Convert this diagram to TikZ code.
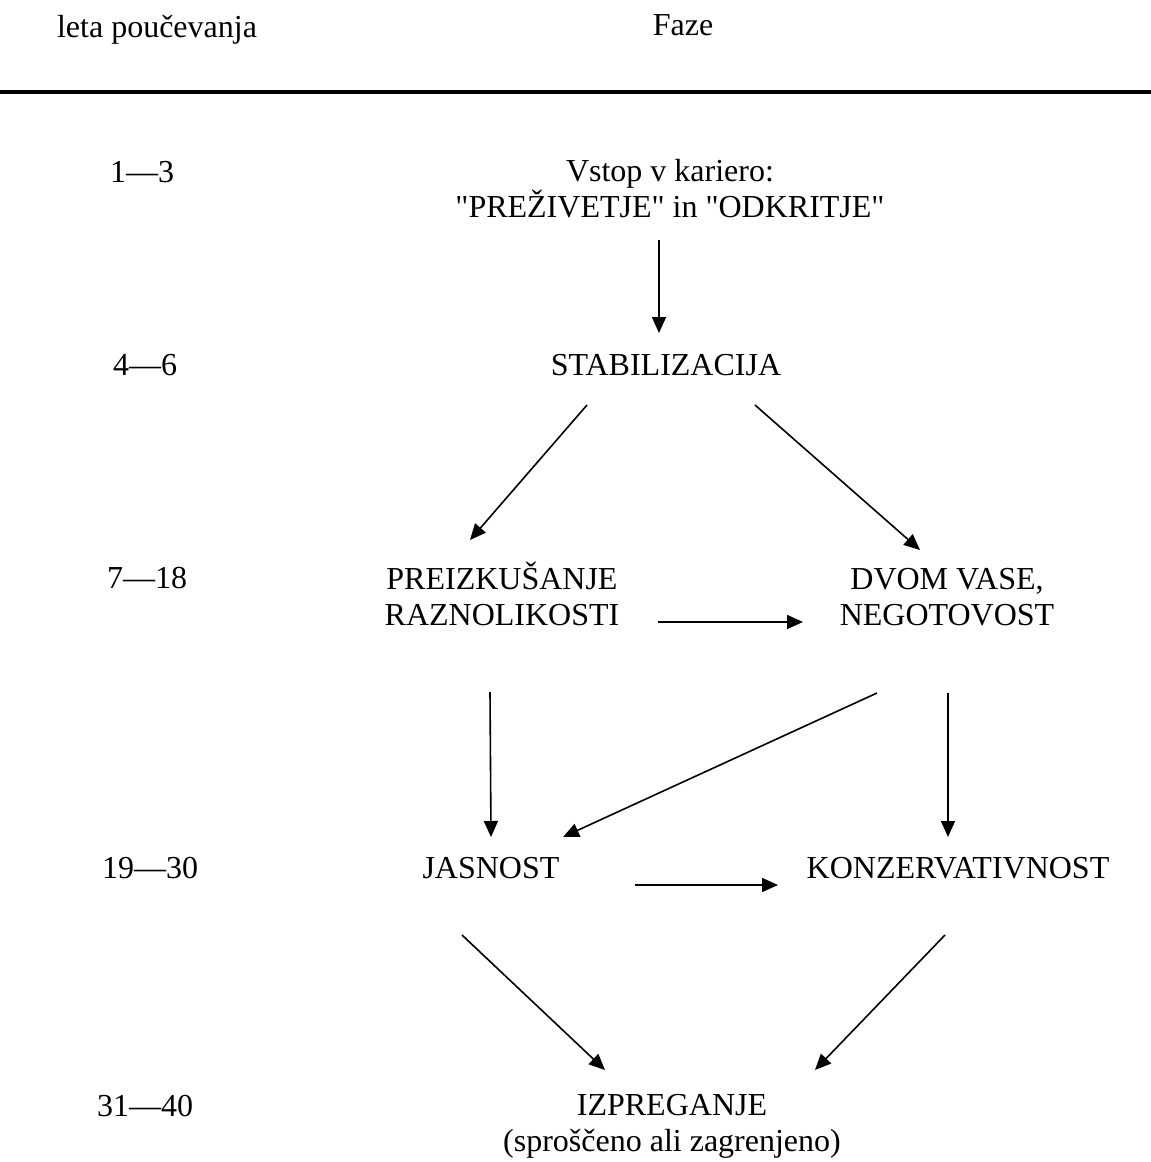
\documentclass[tikz,border=0pt]{standalone}
\usepackage{fontspec}
\setmainfont{Liberation Serif}[Ligatures=TeXOff]
\usepackage{tikz}
\usetikzlibrary{arrows.meta}
\usetikzlibrary{positioning}
\tikzstyle{faza}=[anchor=base,inner sep=0pt,align=center,font=\fontsize{32}{36}\selectfont]
\tikzstyle{leto}=[anchor=base,inner sep=0pt,font=\fontsize{32}{36}\selectfont]
\tikzstyle{suite}=[-{Triangle[length=16pt,width=14pt]},line width=1.6pt]

\begin{document}
\begin{tikzpicture}[x=1pt,y=-1pt]
\useasboundingbox (0,0) rectangle (1151,1162);
\node[leto] (naslov) at (157,37) {leta poučevanja};
\node[leto] (faze) at (683,35) {Faze};
\draw[line width=3.5pt] (0,92) -- (1151,92);

\node[leto] (l1) at (142,182) {1—3};
\node[leto] (l2) at (145,375) {4—6};
\node[leto] (l3) at (147,588) {7—18};
\node[leto] (l4) at (150,878) {19—30};
\node[leto] (l5) at (145,1116) {31—40};

% base = zadnja vrstica
\node[faza] (vstop) at (670,217) {Vstop v kariero:\\"PREŽIVETJE" in "ODKRITJE"};
\node[faza] (stab) at (666,375) {STABILIZACIJA};
\node[faza] (preiz) at (502,625) {PREIZKUŠANJE\\RAZNOLIKOSTI};
\node[faza] (dvom) at (947,625) {DVOM VASE,\\NEGOTOVOST};
\node[faza] (jas) at (491,878) {JASNOST};
\node[faza] (konz) at (958,878) {KONZERVATIVNOST};
\node[faza] (izp) at (672,1151) {IZPREGANJE\\(sproščeno ali zagrenjeno)};
%puscice
\draw[suite] ([shift={(-11,23)}]vstop.base) -- ([shift={(-7,-42)}]stab.base);
\draw[suite] ([shift={(-79,30)}]stab.base) -- ([shift={(-32,-85)}]preiz.base);
\draw[suite] ([shift={(89,30)}]stab.base) -- ([shift={(-27,-75)}]dvom.base);
\draw[suite] ([shift={(156,-3)}]preiz.base) -- ([shift={(-144,-3)}]dvom.base);

\draw[suite] ([shift={(-12,67)}]preiz.base) -- ([shift={(0,-41)}]jas.base);
\draw[suite] ([shift={(-70,68)}]dvom.base) -- ([shift={(72,-41)}]jas.base);
\draw[suite] ([shift={(1,68)}]dvom.base) -- ([shift={(-10,-41)}]konz.base);
\draw[suite] ([shift={(144,7)}]jas.base) -- ([shift={(-180,7)}]konz.base);

\draw[suite] ([shift={(-29,57)}]jas.base) -- ([shift={(-67,-81)}]izp.base);
\draw[suite] ([shift={(-13,57)}]konz.base) -- ([shift={(143,-81)}]izp.base);
\end{tikzpicture}
\end{document}
